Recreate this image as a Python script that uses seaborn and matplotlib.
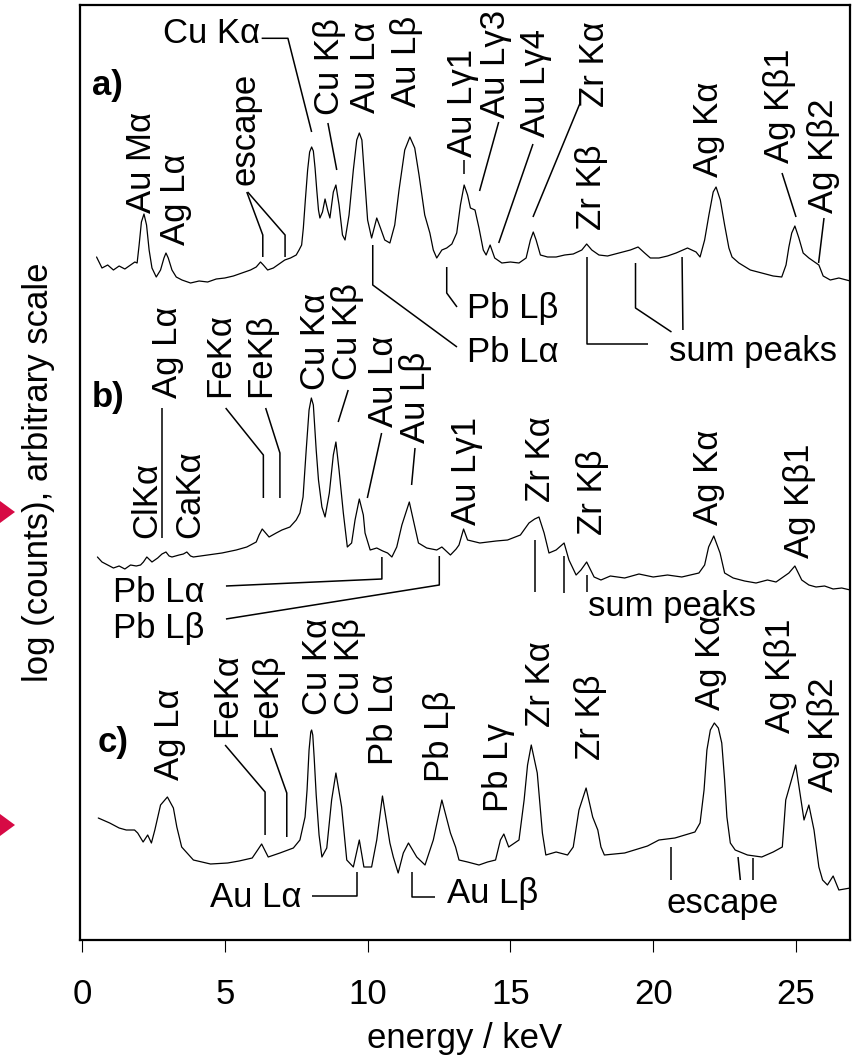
import matplotlib
matplotlib.use("Agg")
import matplotlib.pyplot as plt
import seaborn as sns
import pandas as pd
from matplotlib.patches import Polygon

# ---------------- spectra (energy in keV, log counts on an arbitrary offset scale) ----------------
energy_a = [0.51, 0.7, 0.9, 1.1, 1.3, 1.5, 1.7, 1.85, 1.93, 2.0, 2.08, 2.17, 2.26, 2.35, 2.45, 2.6,
            2.75, 2.87, 2.94, 3.02, 3.15, 3.3, 3.5, 3.8, 4.1, 4.4, 4.7, 5.0, 5.3, 5.6, 5.9, 6.1,
            6.25, 6.35, 6.5, 6.7, 6.9, 7.1, 7.3, 7.5, 7.6, 7.69, 7.75, 7.82, 7.9, 7.97, 8.04, 8.1,
            8.16, 8.22, 8.28, 8.33, 8.42, 8.51, 8.6, 8.68, 8.8, 8.89, 9.0, 9.12, 9.21, 9.35, 9.5,
            9.62, 9.71, 9.8, 9.9, 10.0, 10.14, 10.32, 10.45, 10.6, 10.78, 10.95, 11.1, 11.3, 11.48,
            11.65, 11.8, 12.0, 12.18, 12.3, 12.42, 12.6, 12.77, 12.95, 13.12, 13.25, 13.38, 13.5,
            13.6, 13.76, 13.9, 14.05, 14.15, 14.29, 14.45, 14.7, 15.0, 15.3, 15.55, 15.7, 15.8,
            15.9, 16.05, 16.3, 16.6, 16.9, 17.2, 17.5, 17.67, 17.85, 18.1, 18.4, 18.8, 19.2, 19.47,
            19.7, 19.9, 20.2, 20.5, 20.8, 21.2, 21.5, 21.64, 21.8, 21.95, 22.1, 22.2, 22.35, 22.5,
            22.65, 22.76, 23.0, 23.4, 23.8, 24.2, 24.5, 24.65, 24.75, 24.85, 24.96, 25.1, 25.25,
            25.45, 25.65, 25.8, 25.95, 26.2, 26.5, 26.9]
level_a = [683, 672, 675, 670, 674, 671, 675, 678, 677, 695, 718, 726, 715, 690, 672, 663,
           670, 682, 687, 682, 670, 663, 660, 657, 659, 658, 661, 662, 664, 667, 670, 673,
           678, 675, 670, 672, 676, 680, 682, 685, 690, 695, 712, 740, 770, 788, 793, 789,
           772, 750, 730, 722, 728, 741, 730, 722, 748, 755, 735, 705, 700, 725, 770,
           800, 807, 800, 760, 720, 702, 722, 712, 700, 697, 715, 750, 790, 803,
           792, 765, 725, 707, 690, 682, 690, 692, 696, 707, 735, 755, 745,
           732, 730, 712, 690, 685, 695, 682, 677, 678, 677, 682, 700, 708,
           700, 685, 683, 683, 685, 686, 690, 696, 690, 685, 684, 687, 690, 693,
           687, 682, 682, 684, 687, 692, 688, 683, 700, 725, 748, 753, 740, 715,
           692, 683, 677, 670, 667, 664, 663, 675, 693, 707, 714, 702, 687,
           682, 678, 675, 664, 660, 662, 659]

energy_b = [0.54, 0.7, 0.9, 1.1, 1.3, 1.5, 1.7, 1.9, 2.05, 2.15, 2.27, 2.45, 2.65, 2.8, 2.94, 3.05,
            3.15, 3.4, 3.55, 3.67, 3.8, 3.9, 4.4, 4.9, 5.4, 5.77, 6.1, 6.2, 6.31, 6.4, 6.55, 6.8,
            7.0, 7.28, 7.5, 7.63, 7.74, 7.85, 7.95, 8.03, 8.1, 8.2, 8.28, 8.4, 8.51, 8.66, 8.8,
            8.89, 9.0, 9.15, 9.29, 9.44, 9.56, 9.71, 9.85, 9.91, 10.09, 10.32, 10.53, 10.7, 10.85,
            11.02, 11.2, 11.46, 11.6, 11.78, 12.07, 12.42, 12.6, 12.9, 13.1, 13.2, 13.36, 13.5,
            13.93, 14.5, 14.9, 15.35, 15.65, 15.85, 16.0, 16.18, 16.35, 16.6, 16.88, 17.05, 17.3,
            17.47, 17.67, 17.93, 18.17, 18.5, 19.0, 19.5, 20.0, 20.5, 21.0, 21.6, 21.8, 21.94,
            22.12, 22.34, 22.5, 22.8, 23.2, 23.6, 24.0, 24.3, 24.5, 24.75, 24.96, 25.2, 25.45,
            25.7, 26.0, 26.3, 26.6, 26.9]
level_b = [383, 378, 375, 372, 374, 371, 375, 374, 375, 378, 383, 378, 382, 386, 388, 384,
           383, 385, 386, 388, 384, 383, 385, 387, 390, 393, 398, 405, 411, 408, 403, 407,
           410, 413, 420, 427, 443, 490, 530, 542, 535, 490, 460, 433, 423, 447, 485,
           498, 470, 427, 393, 397, 420, 441, 425, 407, 390, 392, 389, 387, 383,
           393, 415, 438, 420, 397, 392, 390, 393, 385, 391, 395, 411, 400,
           397, 399, 400, 405, 417, 421, 423, 407, 387, 390, 397, 380, 365,
           370, 378, 363, 360, 364, 362, 366, 363, 365, 363, 367, 375, 393,
           404, 387, 367, 362, 359, 357, 360, 358, 362, 367, 374, 360, 355,
           353, 354, 351, 352, 350]

energy_c = [0.57, 0.97, 1.3, 1.55, 1.84, 1.95, 2.14, 2.3, 2.43, 2.55, 2.75, 2.99, 3.2, 3.32, 3.49,
            3.9, 4.5, 5.1, 5.5, 5.96, 6.15, 6.29, 6.52, 6.93, 7.4, 7.63, 7.81, 7.88, 7.95, 8.01,
            8.04, 8.08, 8.13, 8.2, 8.3, 8.4, 8.57, 8.74, 8.89, 9.09, 9.27, 9.5, 9.71, 9.87, 10.14,
            10.32, 10.52, 10.78, 10.9, 11.07, 11.25, 11.43, 11.72, 12.01, 12.3, 12.6, 12.9, 13.08,
            13.2, 13.5, 13.9, 14.2, 14.48, 14.65, 14.77, 14.94, 15.3, 15.48, 15.6, 15.73, 15.94,
            16.12, 16.24, 16.6, 17.0, 17.2, 17.4, 17.65, 17.88, 18.06, 18.17, 18.29, 19.0, 19.8,
            20.2, 20.76, 21.46, 21.64, 21.78, 21.88, 22.0, 22.14, 22.28, 22.4, 22.5, 22.58, 22.7,
            22.87, 23.3, 23.8, 24.2, 24.52, 24.64, 24.99, 25.28, 25.45, 25.63, 25.8, 25.93, 26.1,
            26.3, 26.5, 26.9]
level_c = [122, 117, 112, 110, 110, 107, 98, 105, 97, 110, 135, 143, 132, 113, 93,
           80, 76, 77, 79, 82, 90, 96, 83, 87, 92, 100, 123, 150, 190, 208,
           210, 205, 182, 145, 105, 83, 92, 140, 167, 133, 80, 73, 100, 73, 73,
           100, 144, 97, 83, 67, 87, 97, 83, 75, 100, 140, 107, 93,
           80, 78, 75, 78, 80, 100, 106, 93, 100, 140, 175, 195, 167,
           107, 85, 88, 85, 93, 130, 152, 123, 110, 93, 85, 87, 94,
           100, 102, 108, 117, 150, 190, 210, 217, 212, 197, 160, 123, 97,
           90, 85, 83, 88, 93, 140, 175, 120, 135, 110, 73, 60, 55,
           64, 50, 52]

panels = ["a", "b", "c"]

# ---------------- peak annotations ----------------
# vertical labels: (text, energy, level of the label's lower end)
vertical_labels = [
    ("Au Mα", 2.10, 727), ("Ag Lα", 3.26, 695), ("escape", 5.70, 755), ("Cu Kβ", 8.68, 825),
    ("Au Lα", 9.94, 827), ("Au Lβ", 11.37, 833), ("Au Lγ1", 13.32, 783), ("Au Lγ3", 14.49, 822),
    ("Au Lγ4", 15.88, 803), ("Zr Kα", 17.96, 833), ("Zr Kβ", 17.85, 710), ("Ag Kα", 21.95, 763),
    ("Ag Kβ1", 24.43, 777), ("Ag Kβ2", 25.95, 727),
    ("Ag Lα", 2.98, 542), ("ClKα", 2.28, 402), ("CaKα", 3.78, 402), ("FeKα", 4.83, 543),
    ("FeKβ", 6.27, 543), ("Cu Kα", 8.16, 550), ("Cu Kβ", 9.28, 560), ("Au Lα", 10.57, 513),
    ("Au Lβ", 11.69, 497), ("Au Lγ1", 13.45, 415), ("Zr Kα", 16.04, 438), ("Zr Kβ", 17.89, 405),
    ("Ag Kα", 21.95, 415), ("Ag Kβ1", 25.11, 382),
    ("Ag Lα", 3.05, 160), ("FeKα", 5.08, 203), ("FeKβ", 6.48, 203), ("Cu Kα", 8.23, 225),
    ("Cu Kβ", 9.35, 225), ("Pb Lα", 10.57, 175), ("Pb Lβ", 12.50, 158), ("Pb Lγ", 14.60, 128),
    ("Zr Kα", 16.04, 213), ("Zr Kβ", 17.82, 180), ("Ag Kα", 21.99, 230), ("Ag Kβ1", 24.44, 207),
    ("Ag Kβ2", 25.95, 148),
]
# horizontal labels: (text, energy, baseline level, alignment)
horizontal_labels = [
    ("Cu Kα", 2.84, 897, "left"), ("Pb Lβ", 13.48, 622, "left"), ("Pb Lα", 13.48, 578, "left"),
    ("sum peaks", 23.49, 579, "center"),
    ("Pb Lα", 1.09, 338, "left"), ("Pb Lβ", 1.09, 302, "left"), ("sum peaks", 20.66, 324, "center"),
    ("Au Lα", 4.48, 33, "left"), ("Au Lβ", 12.78, 37, "left"), ("escape", 22.44, 27, "center"),
]
panel_tags = [("a)", 0.35, 845), ("b)", 0.35, 533), ("c)", 0.53, 188)]

# leader lines joining labels to peaks: list of (energy, level) vertices
leaders = [
    [(6.29, 901.7), (7.21, 901.7), (8.04, 808)],
    [(8.61, 817), (8.92, 770)],
    [(5.77, 748), (6.33, 705), (6.33, 683)],
    [(5.80, 748), (7.11, 705), (7.11, 683)],
    [(13.38, 780), (13.38, 766)],
    [(14.59, 818), (13.92, 749)],
    [(15.79, 796), (14.59, 697)],
    [(17.44, 837), (15.79, 723)],
    [(24.51, 767), (25.0, 723)],
    [(25.98, 722), (25.79, 677)],
    [(12.77, 673), (12.77, 647), (13.13, 633)],
    [(10.18, 695), (10.18, 655), (13.13, 593)],
    [(17.67, 683), (17.67, 596), (19.82, 596)],
    [(19.38, 677), (19.38, 632), (20.64, 608)],
    [(21.01, 683), (21.04, 610)],
    [(2.79, 532), (2.79, 402)],
    [(5.03, 532), (6.35, 485), (6.35, 442)],
    [(6.43, 532), (6.93, 487), (6.93, 442)],
    [(9.32, 550), (8.97, 518)],
    [(10.49, 507), (9.99, 442)],
    [(11.66, 492), (11.54, 455)],
    [(10.50, 383), (10.50, 361), (5.04, 354)],
    [(12.51, 384), (12.51, 355), (5.04, 321)],
    [(15.86, 400), (15.86, 348)],
    [(16.88, 384), (16.88, 347)],
    [(17.67, 365), (17.67, 348)],
    [(5.01, 195), (6.41, 148), (6.41, 105)],
    [(6.61, 192), (7.17, 147), (7.17, 103)],
    [(9.62, 68), (9.62, 44), (8.06, 44)],
    [(11.54, 68), (11.54, 43), (12.36, 43)],
    [(20.62, 93), (20.62, 60)],
    [(22.97, 83), (23.05, 60)],
    [(23.49, 82), (23.49, 60)],
]

x_ticks = [0, 5, 10, 15, 20, 25]

# ---------------- figure ----------------
sns.set_theme(style="white")
plt.rcParams["font.family"] = ["Liberation Sans", "DejaVu Sans"]
FS = 25

fig = plt.figure(figsize=(8.56, 10.56), dpi=100)
ax = fig.add_axes([80 / 856, 1 - 940 / 1056, 770 / 856, 935 / 1056])

frames = []
for name, e, lv in zip(panels, [energy_a, energy_b, energy_c], [level_a, level_b, level_c]):
    frames.append(pd.DataFrame({"energy": e, "level": lv, "spectrum": name}))
spectra = pd.concat(frames, ignore_index=True)

sns.lineplot(data=spectra, x="energy", y="level", hue="spectrum",
             palette=["black"] * 3, estimator=None, legend=False,
             linewidth=0.9, ax=ax)

for pts in leaders:
    xs, ys = zip(*pts)
    ax.plot(xs, ys, color="black", lw=1.1, solid_capstyle="butt")

for txt, x, y in vertical_labels:
    ax.text(x, y, txt, rotation=90, ha="center", va="bottom", fontsize=FS, color="black")
for txt, x, y, ha in horizontal_labels:
    ax.text(x, y, txt, ha=ha, va="baseline", fontsize=FS, color="black")
for txt, x, y in panel_tags:
    ax.text(x, y, txt, ha="left", va="baseline", fontsize=FS, fontweight="bold", color="black")

ax.set_xlim(-0.07, 26.89)
ax.set_ylim(0, 935)
ax.set_xticks(x_ticks)
ax.set_xticklabels([str(t) for t in x_ticks])
ax.set_yticks([])
ax.tick_params(axis="x", direction="out", length=8.5, width=0.8, pad=19,
               labelsize=FS, colors="black", bottom=True)
for sp in ax.spines.values():
    sp.set_visible(True)
    sp.set_color("black")
    sp.set_linewidth(1.6)

ax.set_xlabel("energy / keV", fontsize=FS, color="black")
ax.set_ylabel("log (counts), arbitrary scale", fontsize=FS, color="black")
ax.xaxis.set_label_coords(0.5, -0.088)
ax.yaxis.set_label_coords(-0.032, 0.5)

# small red markers at the left margin
for yc in (512, 825):
    tri = Polygon([[0, 1 - (yc - 11) / 1056], [15 / 856, 1 - yc / 1056], [0, 1 - (yc + 11) / 1056]],
                  closed=True, transform=fig.transFigure, facecolor="#d70a45",
                  edgecolor="none", clip_on=False)
    fig.patches.append(tri)

fig.savefig("out.png", dpi=100)
